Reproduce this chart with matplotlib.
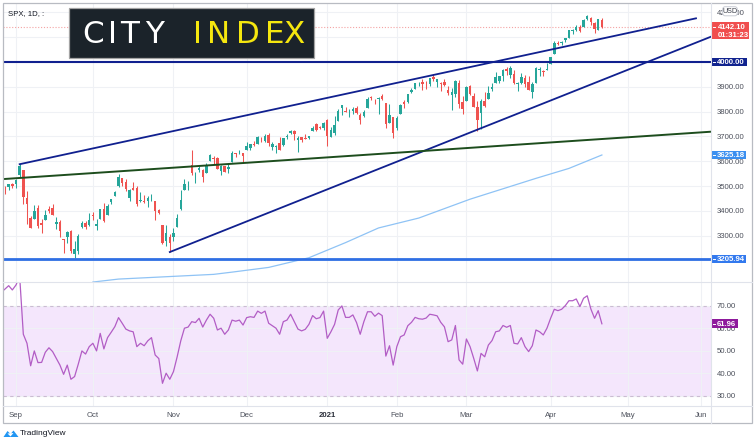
import matplotlib
matplotlib.use('Agg')
import matplotlib.pyplot as plt
from matplotlib.patches import Rectangle, FancyBboxPatch, Polygon
import numpy as np

plt.rcParams['font.family'] = ['Liberation Sans', 'DejaVu Sans']

W, H = 756, 445

# ---------------- data ----------------
trading_days = {
    '2020-08': [26, 27, 28, 31],
    '2020-09': [1, 2, 3, 4, 8, 9, 10, 11, 14, 15, 16, 17, 18, 21, 22, 23, 24, 25, 28, 29, 30],
    '2020-10': [1, 2, 5, 6, 7, 8, 9, 12, 13, 14, 15, 16, 19, 20, 21, 22, 23, 26, 27, 28, 29, 30],
    '2020-11': [2, 3, 4, 5, 6, 9, 10, 11, 12, 13, 16, 17, 18, 19, 20, 23, 24, 25, 27, 30],
    '2020-12': [1, 2, 3, 4, 7, 8, 9, 10, 11, 14, 15, 16, 17, 18, 21, 22, 23, 24, 28, 29, 30, 31],
    '2021-01': [4, 5, 6, 7, 8, 11, 12, 13, 14, 15, 19, 20, 21, 22, 25, 26, 27, 28, 29],
    '2021-02': [1, 2, 3, 4, 5, 8, 9, 10, 11, 12, 16, 17, 18, 19, 22, 23, 24, 25, 26],
    '2021-03': [1, 2, 3, 4, 5, 8, 9, 10, 11, 12, 15, 16, 17, 18, 19, 22, 23, 24, 25, 26, 29, 30, 31],
    '2021-04': [1, 5, 6, 7, 8, 9, 12, 13, 14, 15, 16, 19, 20, 21, 22],
}
dates = [f'{m}-{d:02d}' for m, days in trading_days.items() for d in days]

opens = [3449, 3486, 3495, 3509,
         3507, 3543, 3565, 3453, 3371, 3369, 3412, 3353, 3364, 3407, 3411, 3346, 3357, 3285, 3296, 3320, 3226, 3237, 3333, 3350, 3341,
         3385, 3339, 3368, 3408, 3384, 3434, 3459, 3500, 3534, 3515, 3453, 3493, 3494, 3439, 3439, 3439, 3464, 3441, 3403, 3342, 3278, 3293,
         3296, 3336, 3406, 3485, 3508, 3584, 3543, 3563, 3563, 3553, 3600, 3611, 3612, 3559, 3580, 3567, 3595, 3635, 3638, 3634,
         3645, 3654, 3669, 3670, 3694, 3683, 3705, 3659, 3656, 3675, 3667, 3696, 3713, 3722, 3684, 3698, 3693, 3694, 3723, 3751, 3737, 3733,
         3765, 3698, 3713, 3764, 3816, 3803, 3801, 3802, 3815, 3788, 3781, 3816, 3857, 3844, 3851, 3862, 3836, 3755, 3778,
         3732, 3792, 3840, 3837, 3879, 3892, 3910, 3920, 3917, 3911, 3939, 3918, 3915, 3921, 3886, 3865, 3873, 3915, 3839,
         3842, 3904, 3864, 3818, 3793, 3844, 3851, 3891, 3915, 3924, 3942, 3973, 3949, 3953, 3913, 3917, 3937, 3919, 3880, 3917, 3969, 3963, 3967,
         3993, 4034, 4075, 4075, 4090, 4096, 4124, 4130, 4141, 4140, 4174, 4179, 4159, 4128, 4171]
highs = [3481, 3501, 3509, 3514,
         3528, 3588, 3565, 3479, 3379, 3424, 3425, 3368, 3402, 3419, 3428, 3375, 3362, 3285, 3320, 3323, 3278, 3306, 3360, 3358, 3393,
         3397, 3369, 3409, 3432, 3426, 3447, 3482, 3550, 3534, 3527, 3489, 3515, 3502, 3476, 3465, 3461, 3466, 3441, 3409, 3342, 3342, 3305,
         3330, 3389, 3486, 3529, 3521, 3646, 3558, 3582, 3570, 3593, 3628, 3623, 3619, 3585, 3581, 3589, 3643, 3635, 3645, 3634,
         3678, 3670, 3683, 3700, 3697, 3708, 3712, 3678, 3665, 3697, 3695, 3711, 3725, 3726, 3703, 3698, 3711, 3703, 3740, 3756, 3744, 3760,
         3770, 3738, 3784, 3811, 3827, 3818, 3810, 3820, 3823, 3795, 3805, 3860, 3861, 3852, 3859, 3870, 3836, 3830, 3778,
         3784, 3831, 3847, 3872, 3894, 3915, 3919, 3932, 3925, 3937, 3950, 3933, 3921, 3931, 3902, 3895, 3928, 3926, 3862,
         3902, 3907, 3875, 3843, 3851, 3881, 3903, 3917, 3960, 3944, 3970, 3981, 3984, 3969, 3918, 3955, 3949, 3942, 3919, 3978, 3981, 3969, 3995,
         4021, 4084, 4086, 4083, 4098, 4129, 4131, 4148, 4151, 4173, 4191, 4181, 4160, 4175, 4179]
lows = [3444, 3468, 3485, 3494,
        3494, 3535, 3427, 3349, 3329, 3367, 3329, 3310, 3363, 3390, 3384, 3328, 3293, 3229, 3270, 3232, 3209, 3228, 3332, 3327, 3340,
        3362, 3324, 3368, 3354, 3384, 3428, 3459, 3496, 3500, 3480, 3441, 3484, 3420, 3435, 3433, 3415, 3440, 3364, 3388, 3268, 3259, 3234,
        3279, 3336, 3405, 3485, 3484, 3544, 3511, 3557, 3518, 3552, 3600, 3589, 3567, 3543, 3557, 3553, 3595, 3618, 3630, 3594,
        3645, 3645, 3661, 3668, 3679, 3678, 3660, 3645, 3633, 3645, 3660, 3688, 3710, 3685, 3636, 3676, 3689, 3690, 3723, 3723, 3730, 3726,
        3663, 3696, 3706, 3764, 3785, 3797, 3777, 3792, 3792, 3750, 3780, 3816, 3845, 3830, 3791, 3847, 3732, 3755, 3694,
        3726, 3792, 3816, 3835, 3874, 3892, 3902, 3889, 3891, 3905, 3923, 3901, 3885, 3905, 3868, 3805, 3859, 3814, 3789,
        3842, 3868, 3819, 3723, 3730, 3819, 3851, 3885, 3915, 3915, 3924, 3949, 3935, 3910, 3885, 3910, 3901, 3889, 3853, 3917, 3944, 3944, 3966,
        3992, 4034, 4068, 4068, 4082, 4095, 4114, 4124, 4120, 4140, 4171, 4150, 4118, 4127, 4136]
closes = [3478, 3484, 3508, 3500,
          3526, 3580, 3455, 3427, 3331, 3399, 3339, 3341, 3383, 3401, 3385, 3357, 3319, 3281, 3315, 3237, 3246, 3298, 3351, 3335, 3363,
          3381, 3348, 3409, 3361, 3419, 3447, 3477, 3535, 3512, 3489, 3483, 3484, 3427, 3443, 3436, 3453, 3465, 3401, 3391, 3271, 3310, 3270,
          3310, 3370, 3443, 3510, 3509, 3551, 3545, 3573, 3537, 3585, 3627, 3610, 3568, 3582, 3558, 3577, 3635, 3630, 3638, 3622,
          3662, 3669, 3666, 3699, 3692, 3702, 3673, 3668, 3663, 3647, 3695, 3702, 3722, 3709, 3695, 3687, 3690, 3703, 3735, 3727, 3732, 3756,
          3701, 3726, 3748, 3804, 3825, 3799, 3801, 3810, 3795, 3768, 3799, 3852, 3853, 3841, 3855, 3849, 3751, 3787, 3714,
          3774, 3826, 3830, 3872, 3887, 3915, 3911, 3910, 3916, 3934, 3933, 3932, 3913, 3907, 3877, 3881, 3925, 3829, 3811,
          3901, 3870, 3820, 3768, 3842, 3821, 3875, 3898, 3939, 3943, 3969, 3962, 3974, 3915, 3913, 3940, 3911, 3889, 3910, 3975, 3971, 3959, 3973,
          4020, 4078, 4074, 4080, 4097, 4129, 4128, 4142, 4125, 4170, 4185, 4163, 4135, 4173, 4142.10]

rsi = [76.0, 77.4, 78.9, 77.0,
       79.2, 83.0, 57.3, 53.3, 43.3, 49.9, 44.7, 44.8, 49.3, 51.3, 49.6, 46.6, 43.6, 39.5, 43.6, 37.3, 38.5, 44.0, 49.9, 48.5, 51.8,
       53.3, 49.9, 57.7, 50.8, 55.8, 58.2, 60.7, 64.7, 62.2, 59.6, 58.8, 58.4, 51.8, 53.3, 52.2, 54.4, 55.8, 48.1, 46.5, 35.5, 40.0, 37.3,
       40.7, 47.2, 54.4, 60.0, 60.5, 62.9, 62.5, 64.4, 60.5, 63.6, 66.2, 64.4, 59.2, 60.0, 57.3, 59.2, 63.6, 63.1, 63.6, 61.4,
       64.7, 65.1, 64.8, 67.6, 66.6, 67.6, 62.2, 61.1, 60.0, 57.3, 62.9, 63.6, 66.2, 62.9, 59.6, 58.8, 59.5, 61.7, 65.6, 64.2, 64.7, 67.6,
       55.5, 58.4, 61.7, 68.1, 69.9, 64.8, 64.8, 65.9, 62.5, 57.3, 62.9, 67.3, 67.3, 65.3, 66.7, 65.6, 47.6, 52.2, 43.6,
       51.8, 56.2, 57.0, 61.1, 62.6, 64.8, 64.2, 64.0, 64.5, 66.2, 65.9, 65.5, 62.6, 60.6, 54.0, 54.8, 61.2, 45.9, 44.0,
       55.2, 51.8, 46.6, 41.0, 48.8, 47.3, 52.5, 54.5, 58.4, 58.8, 61.2, 60.4, 61.2, 53.3, 53.0, 55.8, 51.8, 49.6, 52.2, 59.2, 58.4, 57.0, 60.0,
       64.4, 68.4, 67.8, 68.4, 70.0, 72.2, 72.2, 73.0, 69.6, 73.3, 74.4, 68.5, 64.4, 67.8, 61.96]

# 200-day moving average, read at selected bars (bar number, value)
sma_bar = [25, 32, 43, 58, 63, 73, 84, 94, 103, 114, 128, 146, 155, 164]
sma_val = [3113, 3125, 3133, 3144, 3153, 3172, 3211, 3272, 3331, 3371, 3447, 3531, 3571, 3625.18]

# drawn lines (bar number, price)
upper_trend_bar, upper_trend_val = [5, 189.7], [3588, 4176]
lower_trend_bar, lower_trend_val = [46, 193.8], [3234, 4102]
green_trend_bar, green_trend_val = [0.45, 193.8], [3528, 3719]
level_high = 4000.00
level_low = 3205.94

month_bar = [4, 25, 47, 67, 89, 108, 127, 150, 171, 191]
month_labels = ['Sep', 'Oct', 'Nov', 'Dec', '2021', 'Feb', 'Mar', 'Apr', 'May', 'Jun']
price_ticks = [3200, 3300, 3400, 3500, 3600, 3700, 3800, 3900, 4000, 4100, 4200]
hidden_price_ticks = [3200, 4000, 4100]      # covered by the value boxes
rsi_ticks = [30, 40, 50, 60, 70]

# ---------------- figure ----------------
fig = plt.figure(figsize=(W / 100, H / 100), dpi=100)
fig.patch.set_facecolor('white')


def rect(x0, y0, x1, y1):
    return [x0 / W, 1 - y1 / H, (x1 - x0) / W, (y1 - y0) / H]


XL = (0.45, 193.8)
ax_p = fig.add_axes(rect(3, 3, 711, 282))
ax_r = fig.add_axes(rect(3, 282, 711, 406))
grid_c = '#eff1f5'
label_c = '#4c505b'

for ax in (ax_p, ax_r):
    ax.set_xlim(*XL)
    for s in ax.spines.values():
        s.set_visible(False)
    ax.set_xticks(month_bar)
    ax.grid(True, color=grid_c, lw=0.8, zorder=0)
    ax.set_axisbelow(True)
    ax.yaxis.tick_right()
    ax.tick_params(axis='y', length=0, pad=4.3, labelsize=5.6, labelcolor=label_c)
    ax.tick_params(axis='x', length=0)

ax_p.set_ylim(3113.2, 4237.8)
ax_p.set_yticks(price_ticks)
ax_p.set_yticklabels(['' if t in hidden_price_ticks else f'{t:.2f}' for t in price_ticks])
ax_p.tick_params(axis='x', labelbottom=False)

x = np.arange(len(dates))
o = np.array(opens, float); h = np.array(highs, float)
l = np.array(lows, float); c = np.array(closes, float)
up = c >= o
cols = np.where(up, '#26a69a', '#ef5350')

# moving average
ax_p.plot(sma_bar, sma_val, color='#8fc3f5', lw=0.9, zorder=2)
# candles
ax_p.vlines(x, l, h, colors=cols, lw=0.75, zorder=3)
ax_p.bar(x, np.maximum(np.abs(c - o), 1.2), bottom=np.minimum(o, c), width=0.68,
         color=cols, lw=0, zorder=3)
# last price line
ax_p.axhline(closes[-1], color='#f4a3a3', lw=0.8, ls=(0, (1, 1.6)), zorder=2)
# drawn levels / trend lines
ax_p.axhline(level_high, color='#10208f', lw=1.5, zorder=4)
ax_p.axhline(level_low, color='#2f6fe4', lw=2.0, zorder=4)
ax_p.plot(upper_trend_bar, upper_trend_val, color='#10208f', lw=1.3, zorder=4)
ax_p.plot(lower_trend_bar, lower_trend_val, color='#10208f', lw=1.3, zorder=4)
ax_p.plot(green_trend_bar, green_trend_val, color='#1d4d1d', lw=1.4, zorder=4)

# RSI pane
ax_r.set_ylim(25.42, 80.53)
ax_r.set_yticks(rsi_ticks)
ax_r.set_yticklabels([f'{t:.2f}' for t in rsi_ticks])
ax_r.axhspan(30, 70, color='#f4e6fc', lw=0, zorder=0.5)
for lv in (30, 70):
    ax_r.axhline(lv, color='#cbbcd3', lw=0.8, ls=(0, (3, 3)), zorder=1)
ax_r.plot(x, rsi, color='#b25dc5', lw=0.9, zorder=3)
ax_r.set_xticks(month_bar)
ax_r.set_xticklabels(month_labels)
ax_r.tick_params(axis='x', labelsize=5.6, labelcolor=label_c, pad=4.5)
ax_r.get_xticklabels()[4].set_fontweight('bold')
ax_r.get_xticklabels()[4].set_color('#2a2e39')

# ---------------- decoration layer (pixel coords) ----------------
deco = fig.add_axes([0, 0, 1, 1], zorder=10)
deco.set_xlim(0, W)
deco.set_ylim(H, 0)
deco.axis('off')
deco.patch.set_alpha(0)


def ypix(ax, v):
    return H - ax.transData.transform((0, v))[1]


# frame and separators
deco.add_patch(Rectangle((3, 3), 749, 420, fill=False, edgecolor='#b8bbc2', lw=0.9))
deco.plot([711, 711], [3, 423], color='#e0e3eb', lw=0.8)
deco.plot([3, 752], [282, 282], color='#e0e3eb', lw=0.8)
deco.plot([3, 752], [406, 406], color='#e0e3eb', lw=0.8)


def axis_box(y, text, color, w=35, hgt=8.6):
    deco.add_patch(Rectangle((711.5, y - hgt / 2), w, hgt, facecolor=color, edgecolor='none'))
    deco.plot([712.5, 715], [y, y], color='white', lw=0.7)
    deco.text(716.5, y + 0.3, text, color='white', fontsize=5.6, fontweight='bold',
              ha='left', va='center')


axis_box(ypix(ax_p, level_high), f'{level_high:.2f}', '#11238f')
axis_box(ypix(ax_p, level_low), f'{level_low:.2f}', '#3279ee', w=34.5)
axis_box(ypix(ax_p, sma_val[-1]), f'{sma_val[-1]:.2f}', '#3a8ff0', w=34.5)
axis_box(ypix(ax_r, rsi[-1]), f'{rsi[-1]:.2f}', '#8e1a9c', w=26.5)

# last price box with countdown
yl = ypix(ax_p, closes[-1])
deco.add_patch(Rectangle((711.5, yl - 4.3), 37, 16.8, facecolor='#f04e4e', edgecolor='none'))
deco.plot([712.5, 715], [yl, yl], color='white', lw=0.7)
deco.text(717.5, yl + 0.3, f'{closes[-1]:.2f}', color='white', fontsize=5.6, fontweight='bold',
          ha='left', va='center')
deco.text(717.5, yl + 8.4, '01:31:23', color='white', fontsize=5.6, fontweight='bold',
          ha='left', va='center')

# USD badge
deco.add_patch(FancyBboxPatch((723.5, 7.5), 13, 7.5, boxstyle='round,pad=0.8,rounding_size=2.5',
                              facecolor='white', edgecolor='#c9ccd4', lw=0.7))
deco.text(730, 11.4, 'USD', fontsize=5.2, color='#3a3e49', ha='center', va='center')

# symbol caption
deco.text(8, 13.5, 'SPX, 1D, :', fontsize=5.6, color='#131722', ha='left', va='center')

# CITY INDEX logo
deco.add_patch(Rectangle((69, 7.5), 245, 50, facecolor='#1b232a', edgecolor='#a3a3a3', lw=0.9))
for ch, xc in zip('CITY', [93.3, 112.7, 130.0, 154.2]):
    deco.text(xc, 43.3, ch, color='white', fontsize=22.3, family='DejaVu Sans',
              ha='center', va='baseline')
for ch, xc in zip('INDEX', [198.0, 218.3, 247.8, 275.0, 294.2]):
    deco.text(xc, 43.3, ch, color='#f5e70f', fontsize=22.3, family='DejaVu Sans',
              ha='center', va='baseline')

# TradingView footer
deco.add_patch(Polygon([(3.5, 437), (7.5, 431), (10.5, 434), (13.5, 430.5), (18.5, 437)],
                       closed=True, facecolor='#2196f3', edgecolor='none'))
deco.add_patch(Polygon([(7.5, 433.5), (10.5, 436.5), (13.5, 433)], closed=True,
                       facecolor='white', edgecolor='none'))
deco.text(20, 433.5, 'TradingView', fontsize=6.0, color='#131722', ha='left', va='center')

fig.savefig('out.png', dpi=100)
